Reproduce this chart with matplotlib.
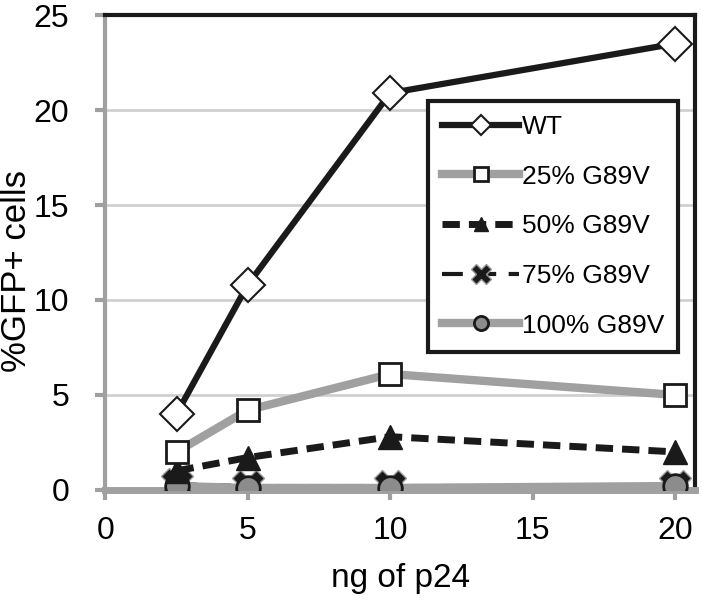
import matplotlib.pyplot as plt

plt.rcParams['font.family'] = ['Liberation Sans', 'DejaVu Sans']

x = [2.5, 5, 10, 20]
wt = [4.0, 10.8, 20.9, 23.5]
g25 = [2.0, 4.2, 6.1, 5.0]
g50 = [1.0, 1.7, 2.8, 2.0]
g75 = [0.3, 0.2, 0.2, 0.2]
g100 = [0.2, 0.1, 0.1, 0.2]
labels = ['WT', '25% G89V', '50% G89V', '75% G89V', '100% G89V']

fig = plt.figure(figsize=(7.02, 6.07), dpi=100)
ax = fig.add_axes([0.150, 0.193, 0.840, 0.782])

gray = '#a0a0a0'
dark = '#1a1a1a'
ax.plot(x, g100, color=gray, lw=6, marker='o', ms=17, mfc='#8c8c8c', mec=dark, mew=2, label=labels[4], zorder=4)
ax.plot(x, g75, color=dark, lw=3, ls=(0, (5, 3)), marker='X', ms=23, mfc=dark, mec='#999999', mew=1, label=labels[3], zorder=3)
ax.plot(x, g50, color=dark, lw=5, ls=(0, (2.5, 1.3)), marker='^', ms=17, mfc=dark, mec=dark, label=labels[2], zorder=4)
ax.plot(x, g25, color=gray, lw=6, marker='s', ms=16, mfc='white', mec=dark, mew=2, label=labels[1], zorder=5)
ax.plot(x, wt, color=dark, lw=4.5, marker='D', ms=17, mfc='white', mec=dark, mew=1.5, label=labels[0], zorder=6)

ax.set_xlim(0, 20.7)
ax.set_ylim(0, 25)
ax.set_xticks([0, 5, 10, 15, 20])
ax.set_yticks([0, 5, 10, 15, 20, 25])
ax.grid(axis='y', color='#d0d0d0', lw=2)
ax.set_axisbelow(True)
ax.tick_params(axis='y', labelsize=23, length=7, width=3, color=gray, direction='out', pad=19)
ax.tick_params(axis='x', labelsize=23, length=7, width=3, color=gray, direction='out', pad=12)

ax.spines['left'].set_color(gray)
ax.spines['bottom'].set_color(gray)
ax.spines['left'].set_linewidth(3)
ax.spines['bottom'].set_linewidth(5)
ax.spines['top'].set_color(dark)
ax.spines['right'].set_color(dark)
ax.spines['top'].set_linewidth(3)
ax.spines['right'].set_linewidth(3)

ax.set_xlabel('ng of p24', fontsize=24, labelpad=12)
ax.set_ylabel('%GFP+ cells', fontsize=25)
ax.yaxis.set_label_coords(-0.122, 0.461)

handles, labs = ax.get_legend_handles_labels()
order = [4, 3, 2, 1, 0]
leg = ax.legend([handles[i] for i in order], [labs[i] for i in order],
                loc='upper left', bbox_to_anchor=(0.547, 0.82), borderaxespad=0,
                fontsize=19, handlelength=2.9, handletextpad=0.1, labelspacing=0.97,
                borderpad=0.55, fancybox=False, framealpha=1, edgecolor=dark, markerscale=0.6)
leg.get_frame().set_linewidth(3)

fig.savefig('out.png', dpi=100)
